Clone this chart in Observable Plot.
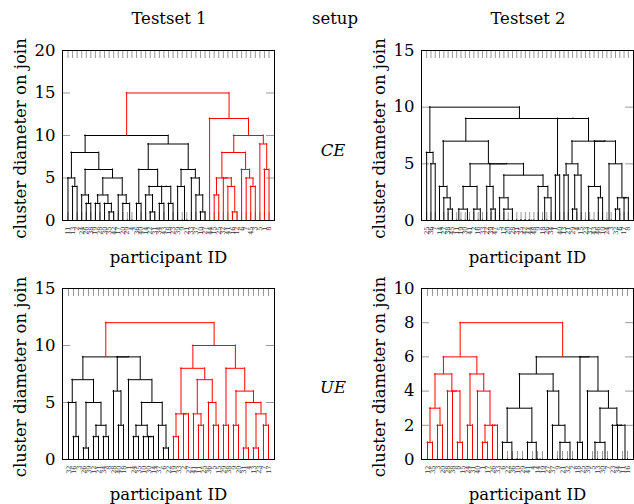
<!DOCTYPE html>
<html><head><meta charset="utf-8">
<script src="https://cdn.jsdelivr.net/npm/d3@7"></script>
<script src="https://cdn.jsdelivr.net/npm/@observablehq/plot@0.6"></script>
<style>
body{margin:0;background:#fff;}
#fig{position:relative;width:634px;height:504px;overflow:hidden;font-family:"DejaVu Serif",serif;background:#fff;}
#fig svg{position:absolute;}
.lbl{position:absolute;font-size:16.5px;white-space:nowrap;transform:translate(-50%,-50%);color:#000;}
</style></head><body>
<div id="fig"></div>
<script>
const _ = null; // a leaf (participant); internal node = [join diameter, left, right]

// ---- titles / row labels
const columnTitles = ["Testset 1", "setup", "Testset 2"];
const rowLabels = ["CE", "UE"];
const yLabel = "cluster diameter on join";
const xLabel = "participant ID";

// ---- Testset 1, CE
const treeT1CE = [15,
  [10,
    [8,
      [5, _, [4, _, _]],
      [6, [3, _, [2, _, _]],
          [5, [3, [2, _, _], [2, _, [1, _, _]]],
              [3, _, [2, _, [0, _, _]]]]]],
    [9,
      [6, [2, _, _], [4, [3, _, [1, _, _]], [4, [2, _, _], [2, _, _]]]],
      [6, [4, _, [0, _, _]], [5, _, [3, _, [1, _, _]]]]]],
  [12,
    _,
    [10,
      [8, [5, [3, _, _], [5, _, [4, _, [1, _, _]]]],
          [6, _, [5, _, [4, _, _]]]],
      [9, _, [6, _, _]]]]];
const idsT1CE = [11,13,2,24,26,38,19,28,30,35,42,17,20,29,4,36,40,14,22,31,34,43,18,23,39,9,21,33,37,10,27,44,15,25,32,41,16,12,6,7,45,3,5,1,8];
const yTicksT1CE = [0, 5, 10, 15, 20];

// ---- Testset 2, CE
const treeT2CE = [10,
  [6, _, [5, _, _]],
  [9,
    [7,
      [3, _, [2, _, [1, _, _]]],
      [5,
        [3, [1, [0, _, _], [0, _, _]], [1, _, [0, _, _]]],
        [5,
          [3, _, [1, _, _]],
          [4,
            [2, _, [1, _, [0, _, [0, _, [0, _, [0, _, [0, _, [0, _, _]]]]]]]],
            [3, _, [2, [0, _, _], _]]]]]],
    [9,
      [4, _, _],
      [7,
        [5, [4, _, _], [4, [1, _, _], _]],
        [7,
          [3, [0, _, [0, _, _]], [2, _, _]],
          [5, [0, _, _], [2, [1, _, _], [2, _, _]]]]]]]];
const idsT2CE = [25,36,7,14,27,38,45,11,19,30,41,2,16,33,22,39,47,5,12,20,28,31,35,42,44,48,9,18,26,34,1,40,13,21,29,4,15,23,37,43,46,10,24,3,32,6,17,8];
const yTicksT2CE = [0, 5, 10, 15];

// ---- Testset 1, UE
const treeT1UE = [12,
  [9,
    [7,
      [5, _, [2, _, _]],
      [5, [1, _, _], [3, [2, _, _], [2, _, _]]]],
    [9,
      [6, _, [3, _, _]],
      [7, _, [5, [3, [2, _, _], [2, _, [2, _, _]]], [3, _, [1, _, _]]]]]],
  [10,
    [8,
      [4, [2, _, _], [4, _, _]],
      [7, [4, _, [3, _, _]], [5, _, [3, _, _]]]],
    [8,
      [3, _, _],
      [6, [3, _, _], [5, [1, _, _], [4, [1, _, _], [3, _, _]]]]]]];
const idsT1UE = [32,16,3,26,39,12,21,34,8,28,40,18,1,24,35,10,30,14,37,6,22,19,33,2,27,41,11,25,36,5,15,29,38,9,20,31,4,13,23,7,17];
const yTicksT1UE = [0, 5, 10, 15];

// ---- Testset 2, UE
const treeT2UE = [8,
  [6,
    [5, [3, [1, _, _], [2, _, _]], [4, _, [4, _, [1, _, _]]]],
    [5, [2, _, _], [4, _, [2, [1, _, _], [2, _, _]]]]],
  [6,
    [5,
      [3, [1, _, [0, _, [0, _, [0, _, _]]]], [1, _, [0, _, [0, _, _]]]],
      [4, _, [2, _, [1, [0, _, _], [0, _, _]]]]],
    [6, [1, _, _],
        [4, _, [3, [1, [0, _, _], [0, _, _]], [2, _, [2, _, [0, _, _]]]]]]]];
const idsT2UE = [12,35,3,20,28,38,8,15,24,31,40,1,17,26,33,6,22,36,10,29,41,4,14,19,27,37,9,21,32,2,18,25,39,5,13,30,7,23,34,11,16];
const yTicksT2UE = [0, 2, 4, 6, 8, 10];

const RED = "#ff0000", BLACK = "#000000", TICK = "#999999";
const FONT = "DejaVu Serif";

// dendrogram layout: leaves at 1..N, node x = midpoint of its children
function layout(tree, redSide) {
  const hz = [], vt = [], leaves = [];
  let n = 0;
  function join(a, b, h, c) {
    hz.push({x1: a.x, x2: b.x, y: h, c});
    vt.push({x: a.x, y1: a.h, y2: h, c});
    vt.push({x: b.x, y1: b.h, y2: h, c});
    return {x: (a.x + b.x) / 2, h};
  }
  function walk(node, c) {
    if (node === null) { n++; leaves.push({x: n}); return {x: n, h: 0}; }
    const [h, l, r] = node;
    return join(walk(l, c), walk(r, c), h, c);
  }
  const [h, l, r] = tree;
  const a = walk(l, redSide === "left" ? RED : BLACK);
  const b = walk(r, redSide === "right" ? RED : BLACK);
  join(a, b, h, redSide ? RED : BLACK);
  return {hz, vt, leaves};
}

function panel(o) {
  const {hz, vt, leaves} = layout(o.tree, o.red);
  leaves.forEach((d, i) => d.id = String(o.ids[i]));
  const N = leaves.length, PAD = 1.2;
  const innerW = o.w - o.ml - o.mr, innerH = o.h - o.mt - o.mb;
  const yMax = o.yTicks[o.yTicks.length - 1];
  const svg = Plot.plot({
    width: o.w, height: o.h,
    marginLeft: o.ml, marginRight: o.mr, marginTop: o.mt, marginBottom: o.mb,
    style: {background: "transparent", fontFamily: FONT, overflow: "visible"},
    x: {domain: [1 - PAD, N + PAD], axis: null},
    y: {domain: [0, yMax], axis: null},
    marks: [
      Plot.tickX(leaves, {x: "x", insetBottom: innerH - 8, stroke: TICK}),
      Plot.tickX(leaves, {x: "x", insetTop: innerH - 8, stroke: TICK}),
      Plot.tickY(o.yTicks, {y: d => d, insetRight: innerW - 8, stroke: TICK}),
      Plot.tickY(o.yTicks, {y: d => d, insetLeft: innerW - 8, stroke: TICK}),
      Plot.ruleX(vt.filter(d => d.c === BLACK), {x: "x", y1: "y1", y2: "y2", stroke: BLACK, strokeLinecap: "square"}),
      Plot.ruleY(hz.filter(d => d.c === BLACK), {y: "y", x1: "x1", x2: "x2", stroke: BLACK, strokeLinecap: "square"}),
      Plot.ruleX(vt.filter(d => d.c === RED), {x: "x", y1: "y1", y2: "y2", stroke: RED, strokeLinecap: "square"}),
      Plot.ruleY(hz.filter(d => d.c === RED), {y: "y", x1: "x1", x2: "x2", stroke: RED, strokeLinecap: "square"}),
      Plot.axisY(o.yTicks, {tickSize: 0, tickPadding: 7, fontSize: 16.5, fontFamily: FONT, label: null, fill: "black"}),
      Plot.text(leaves, {x: "x", text: "id", frameAnchor: "bottom", dy: 6, rotate: -90, textAnchor: "end", lineAnchor: "middle", fontSize: 6.5, fontFamily: FONT, fill: "#333"}),
      Plot.text([yLabel], {frameAnchor: "left", dx: -42, dy: 3, rotate: -90, textAnchor: "middle", fontSize: 16.5, fontFamily: FONT, lineAnchor: "middle"}),
      Plot.text([xLabel], {frameAnchor: "bottom", dy: o.xdy, textAnchor: "middle", fontSize: 16.5, fontFamily: FONT, lineAnchor: "middle"}),
      Plot.frame({stroke: "black"})
    ]
  });
  svg.style.left = o.left + "px";
  svg.style.top = o.top + "px";
  return svg;
}

const fig = document.getElementById("fig");
fig.append(panel({tree: treeT1CE, ids: idsT1CE, yTicks: yTicksT1CE, red: "right", left: 0, top: 0, w: 317, h: 270, ml: 62, mr: 43, mt: 50, mb: 50, xdy: 37}));
fig.append(panel({tree: treeT2CE, ids: idsT2CE, yTicks: yTicksT2CE, red: null, left: 317, top: 0, w: 317, h: 270, ml: 104, mr: 1, mt: 50, mb: 50, xdy: 37}));
fig.append(panel({tree: treeT1UE, ids: idsT1UE, yTicks: yTicksT1UE, red: "right", left: 0, top: 270, w: 317, h: 234, ml: 62, mr: 43, mt: 18, mb: 45, xdy: 35}));
fig.append(panel({tree: treeT2UE, ids: idsT2UE, yTicks: yTicksT2UE, red: "left", left: 317, top: 270, w: 317, h: 234, ml: 104, mr: 1, mt: 18, mb: 45, xdy: 35}));

function label(text, x, y, italic) {
  const d = document.createElement("div");
  d.className = "lbl";
  d.textContent = text;
  d.style.left = x + "px"; d.style.top = y + "px";
  if (italic) d.style.fontStyle = "italic";
  fig.append(d);
}
label(columnTitles[0], 169, 18);
label(columnTitles[1], 335, 18);
label(columnTitles[2], 528, 18);
label(rowLabels[0], 333, 150, true);
label(rowLabels[1], 333, 387, true);
</script>
</body></html>
